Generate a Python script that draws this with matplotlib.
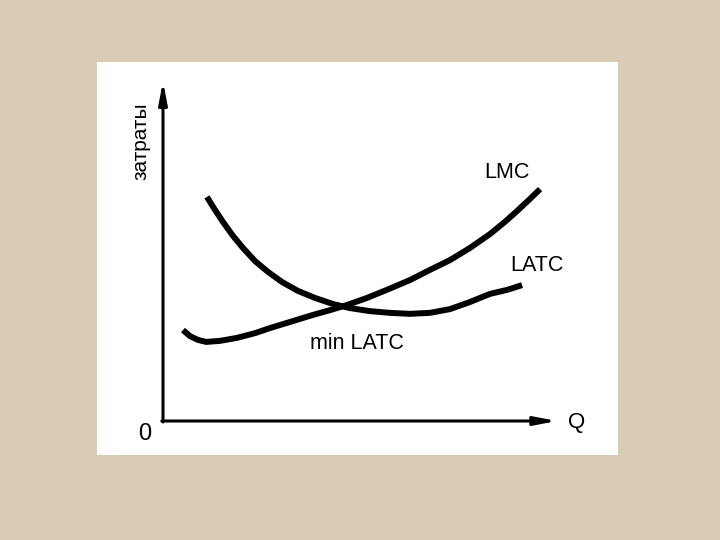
import matplotlib
matplotlib.use("Agg")
from matplotlib import pyplot as plt
from matplotlib.patches import Rectangle

plt.rcParams['font.family'] = ['Liberation Sans', 'DejaVu Sans']

# data (Q, cost)
latc_q = [1.12, 1.33, 1.53, 1.79, 2.04, 2.35, 2.68, 3.04, 3.44, 3.88, 4.34,
          4.77, 5.28, 5.79, 6.30, 6.81, 7.32, 7.83, 8.34, 8.78, 9.16]
latc_c = [6.63, 6.24, 5.89, 5.47, 5.12, 4.73, 4.41, 4.11, 3.85, 3.64, 3.46,
          3.34, 3.25, 3.20, 3.17, 3.20, 3.31, 3.52, 3.76, 3.88, 4.02]

lmc_q = [0.51, 0.69, 0.89, 1.10, 1.45, 1.89, 2.35, 2.73, 3.24, 3.83, 4.26, 4.69,
         5.20, 5.71, 6.30, 6.81, 7.32, 7.83, 8.34, 8.72, 9.03, 9.36, 9.62]
lmc_c = [2.69, 2.51, 2.40, 2.34, 2.37, 2.46, 2.60, 2.75, 2.93, 3.14, 3.28, 3.43,
         3.64, 3.88, 4.17, 4.47, 4.76, 5.12, 5.53, 5.89, 6.21, 6.57, 6.86]

W, H = 720, 540
fig = plt.figure(figsize=(7.2, 5.4), dpi=100)
fig.patch.set_facecolor('#d8ccb7')

# white card
fig.patches.append(Rectangle((97 / W, 1 - 455 / H), (618 - 97) / W, (455 - 62) / H,
                             transform=fig.transFigure, facecolor='white',
                             edgecolor='none', zorder=-5))

# plot area: Q 0..10 -> px 163..555, cost 0..10 -> px 421..83
x0, x1, y0, y1 = 163, 555, 421, 83
ax = fig.add_axes([x0 / W, 1 - y0 / H, (x1 - x0) / W, (y0 - y1) / H])
ax.set_zorder(5)
ax.set_xlim(0, 10)
ax.set_ylim(0, 10)
ax.axis('off')

ax.plot(latc_q, latc_c, color='black', lw=4.3, solid_capstyle='butt',
        solid_joinstyle='round')
ax.plot(lmc_q, lmc_c, color='black', lw=4.3, solid_capstyle='butt',
        solid_joinstyle='round')

# axes with arrows
arrow = dict(arrowstyle='-|>,head_length=1.3,head_width=0.25', color='black',
             lw=2.2, shrinkA=0, shrinkB=0)
ax.annotate('', xy=(10.05, 0), xytext=(-0.03, 0), arrowprops=arrow,
            annotation_clip=False)
ax.annotate('', xy=(0, 10.05), xytext=(0, -0.03), arrowprops=arrow,
            annotation_clip=False)

ax.text(8.78, 7.34, 'LMC', fontsize=15.5, ha='center', va='center')
ax.text(9.54, 4.59, 'LATC', fontsize=15.5, ha='center', va='center')
ax.text(4.95, 2.28, 'min LATC', fontsize=15.5, ha='center', va='center')
ax.text(-0.46, -0.38, '0', fontsize=17, ha='center', va='center')
ax.text(10.56, -0.03, 'Q', fontsize=16, ha='center', va='center')
ax.text(-0.56, 8.28, 'затраты', fontsize=15, rotation=90,
        ha='center', va='center')

fig.savefig('out.png', dpi=100, facecolor=fig.get_facecolor())
